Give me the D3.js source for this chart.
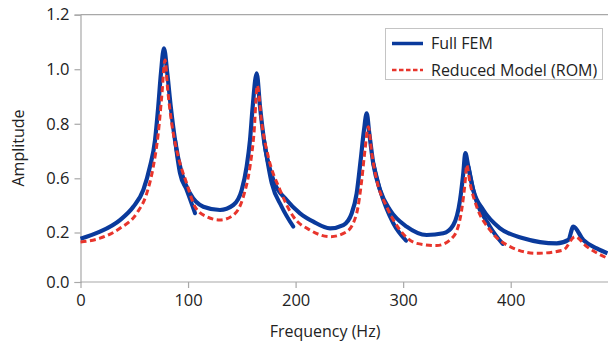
<!DOCTYPE html>
<html>
<head>
<meta charset="utf-8">
<script src="https://cdn.jsdelivr.net/npm/d3@7"></script>
<style>
  html, body { margin: 0; padding: 0; background: #fff; }
  svg { display: block; font-family: 'Open Sans', 'Noto Sans', sans-serif; }
</style>
</head>
<body>
<svg id="chart" width="608" height="346"></svg>
<script>
// Full FEM response (frequency in Hz, amplitude)
const femFreq = [0, 18.1, 36.7, 49.1, 58.4, 64.6, 69.3, 72.3, 74.8, 77.6, 80.7, 83.9, 87.9, 94.1, 101.8, 114.2, 129.7,
  142.1, 149.9, 154.5, 157.6, 160.1, 163.8, 166.9, 170.6, 179.3, 191.7, 204.1, 216.5, 232, 244.4, 252.2, 256.8, 260.5,
  263.6, 266.1, 268.5, 272.2, 278.5, 287.8, 303.3, 321.9, 337.3, 346.6, 352.9, 355.9, 357.8, 360.6, 365.2, 374.5,
  390.1, 411.7, 442.8, 453.6, 458.2, 467.5, 480, 490];
const femAmp = [0.175, 0.206, 0.292, 0.390, 0.514, 0.643, 0.740, 0.863, 0.985, 1.077, 0.985, 0.863, 0.740, 0.618, 0.489, 0.390, 0.366,
  0.403, 0.514, 0.643, 0.740, 0.863, 0.985, 0.863, 0.740, 0.587, 0.440, 0.342, 0.280, 0.231, 0.255, 0.342, 0.489, 0.667,
  0.777, 0.838, 0.765, 0.655, 0.514, 0.366, 0.243, 0.190, 0.197, 0.255, 0.440, 0.618, 0.692, 0.643, 0.514, 0.366,
  0.231, 0.177, 0.156, 0.170, 0.243, 0.170, 0.136, 0.116];

// the extra FEM branches that drop away after each peak
const tailFreq = [
  [87.9, 92.5, 98.7, 106.5],
  [170.6, 177.8, 187.1, 197.9],
  [272.2, 278.5, 290.8, 302.7],
  [360.6, 365.2, 380.8, 392.6]
];
const tailAmp = [
  [0.740, 0.618, 0.514, 0.342],
  [0.740, 0.563, 0.390, 0.243],
  [0.655, 0.514, 0.268, 0.167],
  [0.643, 0.514, 0.243, 0.154]
];

// Reduced model (ROM)
const romFreq = [0, 18.1, 36.7, 52.3, 61.6, 67.7, 72.3, 75.5, 78.6, 81.1, 84.8, 90.9, 98.7, 106.5, 117.3, 129.7, 142.1,
  151.4, 157.6, 161.3, 164.4, 168.5, 174.6, 185.5, 197.9, 213.4, 232, 247.5, 256.8, 261.5, 264.5, 267.6, 270.8, 275.4,
  284.7, 297.1, 312.6, 331.2, 346.6, 354.4, 357.5, 359.1, 362.2, 368.4, 380.8, 399.4, 424.2, 448.9, 459.8, 470.7, 490];
const romAmp = [0.162, 0.177, 0.231, 0.342, 0.489, 0.643, 0.765, 0.899, 1.034, 0.924, 0.802, 0.679, 0.563, 0.390, 0.317, 0.292, 0.329,
  0.464, 0.643, 0.765, 0.940, 0.802, 0.679, 0.514, 0.317, 0.218, 0.183, 0.206, 0.342, 0.587, 0.704, 0.789, 0.692, 0.587,
  0.390, 0.218, 0.156, 0.147, 0.183, 0.366, 0.563, 0.649, 0.563, 0.390, 0.218, 0.143, 0.116, 0.129, 0.183, 0.143, 0.096];

const xTicks = [0, 100, 200, 300, 400];
const yTicks = [0, 0.2, 0.6, 0.8, 1.0, 1.2];
const seriesNames = ['Full FEM', 'Reduced Model (ROM)'];

const svg = d3.select('#chart');
const blue = '#0a3a9c';
const red = '#e8352c';

const x = d3.scaleLinear().domain([0, 490]).range([80.5, 607.5]);
// axis in the reference is not uniform below 0.6
const y = d3.scaleLinear().domain([0, 0.2, 0.6, 1.2]).range([282, 232.5, 178.3, 14.7]);

// frame lines
svg.append('line')
  .attr('x1', x(0)).attr('x2', 608)
  .attr('y1', y(1.2)).attr('y2', y(1.2))
  .attr('stroke', '#a8a8a8').attr('stroke-width', 1.2);

const xAxis = svg.append('g')
  .attr('transform', `translate(0,${y(0)})`)
  .call(d3.axisBottom(x).tickValues(xTicks).tickSize(6).tickPadding(6).tickFormat(d3.format('d')));
xAxis.select('.domain').attr('d', `M${x(0)},0H608`);

const yAxis = svg.append('g')
  .attr('transform', `translate(${x(0)},0)`)
  .call(d3.axisLeft(y).tickValues(yTicks).tickSize(6).tickPadding(5).tickFormat(d3.format('.1f')));

[xAxis, yAxis].forEach(g => {
  g.select('.domain').attr('stroke', '#a8a8a8').attr('stroke-width', 1.2);
  g.selectAll('.tick line').attr('stroke', '#a8a8a8').attr('stroke-width', 1.2);
  g.selectAll('.tick text')
    .attr('fill', '#222')
    .style('font-size', '16.5px')
    .style('font-family', "'Open Sans', 'Noto Sans', sans-serif");
});

// axis titles
svg.append('text')
  .attr('x', 325).attr('y', 337)
  .attr('text-anchor', 'middle')
  .attr('fill', '#222')
  .style('font-size', '16px')
  .text('Frequency (Hz)');

svg.append('text')
  .attr('transform', 'translate(24,148) rotate(-90)')
  .attr('text-anchor', 'middle')
  .attr('fill', '#222')
  .style('font-size', '16px')
  .text('Amplitude');

const line = d3.line()
  .x(d => x(d[0]))
  .y(d => y(d[1]))
  .curve(d3.curveMonotoneX);

const fem = femFreq.map((f, i) => [f, femAmp[i]]);
const rom = romFreq.map((f, i) => [f, romAmp[i]]);
const tails = tailFreq.map((fs, j) => fs.map((f, i) => [f, tailAmp[j][i]]));

const plot = svg.append('g');

plot.selectAll('path.tail')
  .data(tails)
  .enter()
  .append('path')
  .attr('class', 'tail')
  .attr('d', line)
  .attr('fill', 'none')
  .attr('stroke', blue)
  .attr('stroke-width', 4)
  .attr('stroke-linecap', 'round');

plot.append('path')
  .datum(fem)
  .attr('d', line)
  .attr('fill', 'none')
  .attr('stroke', blue)
  .attr('stroke-width', 4.2)
  .attr('stroke-linejoin', 'round');

plot.append('path')
  .datum(rom)
  .attr('d', line)
  .attr('fill', 'none')
  .attr('stroke', red)
  .attr('stroke-width', 3)
  .attr('stroke-dasharray', '6,3.5');

// Legend
const legend = svg.append('g');
legend.append('rect')
  .attr('x', 385.5).attr('y', 28.5)
  .attr('width', 217).attr('height', 51)
  .attr('fill', '#fff')
  .attr('stroke', '#c4c4c4')
  .attr('stroke-width', 1);

const items = legend.selectAll('g.item')
  .data(seriesNames)
  .enter()
  .append('g')
  .attr('class', 'item')
  .attr('transform', (d, i) => `translate(392,${43.5 + i * 26.5})`);

items.append('line')
  .attr('x1', 0).attr('x2', 31)
  .attr('stroke', (d, i) => i === 0 ? blue : red)
  .attr('stroke-width', (d, i) => i === 0 ? 3.5 : 2.6)
  .attr('stroke-dasharray', (d, i) => i === 0 ? null : '4.5,2.5');

items.append('text')
  .attr('x', 39).attr('y', 5.5)
  .attr('fill', '#222')
  .style('font-size', '16px')
  .text(d => d);
</script>
</body>
</html>
